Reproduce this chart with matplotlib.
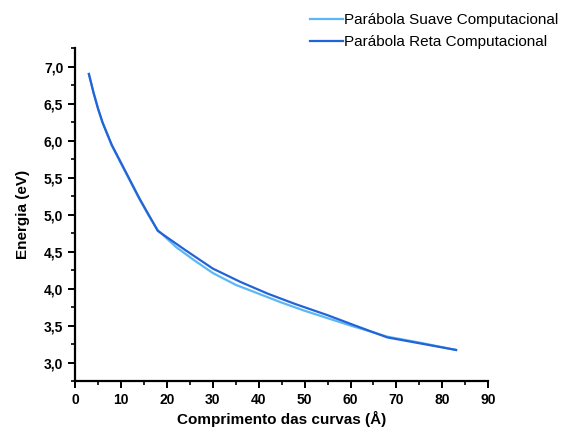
import matplotlib
matplotlib.use("Agg")
import matplotlib.pyplot as plt
from matplotlib.ticker import MultipleLocator, FuncFormatter

plt.rcParams['font.family'] = ['Liberation Sans', 'DejaVu Sans']

# Parábola Suave Computacional
x_suave = [3, 4, 5, 6, 8, 10, 12, 14, 16, 18, 22, 26, 30, 35, 40, 45, 50, 55, 60, 68, 75, 83]
e_suave = [6.9, 6.65, 6.43, 6.24, 5.93, 5.69, 5.45, 5.21, 4.99, 4.79, 4.56, 4.38, 4.21, 4.05, 3.93, 3.81, 3.7, 3.6, 3.5, 3.35, 3.27, 3.17]

# Parábola Reta Computacional
x_reta = [3, 4, 5, 6, 8, 10, 12, 14, 16, 18, 24, 30, 36, 42, 48, 55, 61, 68, 83]
e_reta = [6.9, 6.65, 6.43, 6.24, 5.94, 5.7, 5.46, 5.22, 5.0, 4.78, 4.52, 4.27, 4.09, 3.93, 3.79, 3.64, 3.5, 3.34, 3.17]

fig = plt.figure(figsize=(5.69, 4.33), dpi=100)
ax = fig.add_axes([0.132, 0.12, 0.726, 0.769])

ax.plot(x_suave, e_suave, color='#5BB8F5', lw=1.6, label='Parábola Suave Computacional')
ax.plot(x_reta, e_reta, color='#2463D6', lw=1.6, label='Parábola Reta Computacional')

ax.set_xlim(0, 90)
ax.set_ylim(2.75, 7.25)
ax.xaxis.set_major_locator(MultipleLocator(10))
ax.xaxis.set_minor_locator(MultipleLocator(5))
ax.yaxis.set_major_locator(MultipleLocator(0.5))
ax.yaxis.set_minor_locator(MultipleLocator(0.25))
ax.yaxis.set_major_formatter(FuncFormatter(lambda v, p: f"{v:.1f}".replace('.', ',')))

for s in ['top', 'right']:
    ax.spines[s].set_visible(False)
for s in ['left', 'bottom']:
    ax.spines[s].set_linewidth(1.6)
ax.tick_params(which='major', length=5, width=1.4, labelsize=10)
ax.tick_params(which='minor', length=3, width=1.2)
for lab in ax.get_xticklabels() + ax.get_yticklabels():
    lab.set_fontweight('bold')

ax.set_xlabel('Comprimento das curvas (Å)', fontsize=11, fontweight='bold', labelpad=3)
ax.set_ylabel('Energia (eV)', fontsize=11, fontweight='bold', labelpad=10)

fig.legend(loc='upper right', bbox_to_anchor=(1.0, 0.995), frameon=False, fontsize=11,
           handlelength=2.1, handletextpad=0.1, labelspacing=0.55, borderaxespad=0.3)

fig.savefig('out.png', dpi=100)
